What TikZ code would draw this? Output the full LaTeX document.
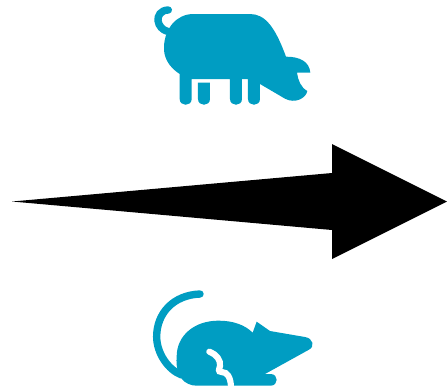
\documentclass[tikz,border=0pt]{standalone}
\usepackage{xcolor}
\definecolor{animalblue}{RGB}{0,157,194}
\tikzset{
    animal/.style={fill=animalblue, draw=none},
    tailline/.style={draw=animalblue, line width=4.2pt, line cap=round},
    gapline/.style={draw=white, line width=3.5pt, line cap=round},
    bigarrow/.style={fill=black, draw=none}
}
\begin{document}
\begin{tikzpicture}[x=0.02cm,y=-0.02cm]
    \useasboundingbox (0,0) rectangle (447,387);
    % arrow
    \path[bigarrow] (12,201.5) -- (332,173) -- (332,144) -- (447,201.5) -- (332,259) -- (332,230) -- cycle;
    % pig
    \begin{scope}[shift={(140,0)},scale=1/3]
        \draw[tailline] (85,30) .. controls (62,30) and (52,48) .. (54,62) .. controls (56,78) and (68,90) .. (82,94);
        \path[animal] (160,42) -- (330,42) .. controls (375,42) and (405,80) .. (438,170)
            .. controls (480,170) and (508,185) .. (511,218) -- (471,218)
            .. controls (474,240) and (482,262) .. (502,273) .. controls (498,295) and (465,312) .. (435,296)
            -- (360,252) -- (360,297) .. controls (360,320) and (324,320) .. (324,297) -- (324,237) -- (306,237)
            -- (306,297) .. controls (306,320) and (270,320) .. (270,297) -- (270,237) -- (155,237)
            -- (155,297) .. controls (155,320) and (119,320) .. (119,297) -- (119,222)
            .. controls (85,200) and (70,170) .. (72,140) .. controls (74,85) and (110,42) .. (160,42) -- cycle;
        \path[animal] (174,248) -- (210,248) -- (210,297) .. controls (210,320) and (174,320) .. (174,297) -- cycle;
    \end{scope}
    % rat
    \begin{scope}[shift={(140,280)},scale=1/3]
        \draw[tailline] (180,42) .. controls (100,45) and (50,100) .. (50,170) .. controls (50,220) and (85,270) .. (125,285);
        \path[animal] (110,230) .. controls (110,165) and (165,122) .. (235,122)
            .. controls (280,122) and (315,135) .. (338,158) -- (350,125) -- (390,153)
            -- (495,171) .. controls (520,175) and (525,200) .. (507,209) -- (375,282) -- (392,282)
            .. controls (416,282) and (416,317) .. (392,317) -- (170,317)
            .. controls (135,317) and (105,290) .. (110,230) -- cycle;
        \draw[gapline] (208,215) .. controls (228,222) and (243,240) .. (240,258)
            .. controls (238,268) and (232,275) .. (245,276) .. controls (262,276) and (273,292) .. (273,325);
    \end{scope}
\end{tikzpicture}
\end{document}
